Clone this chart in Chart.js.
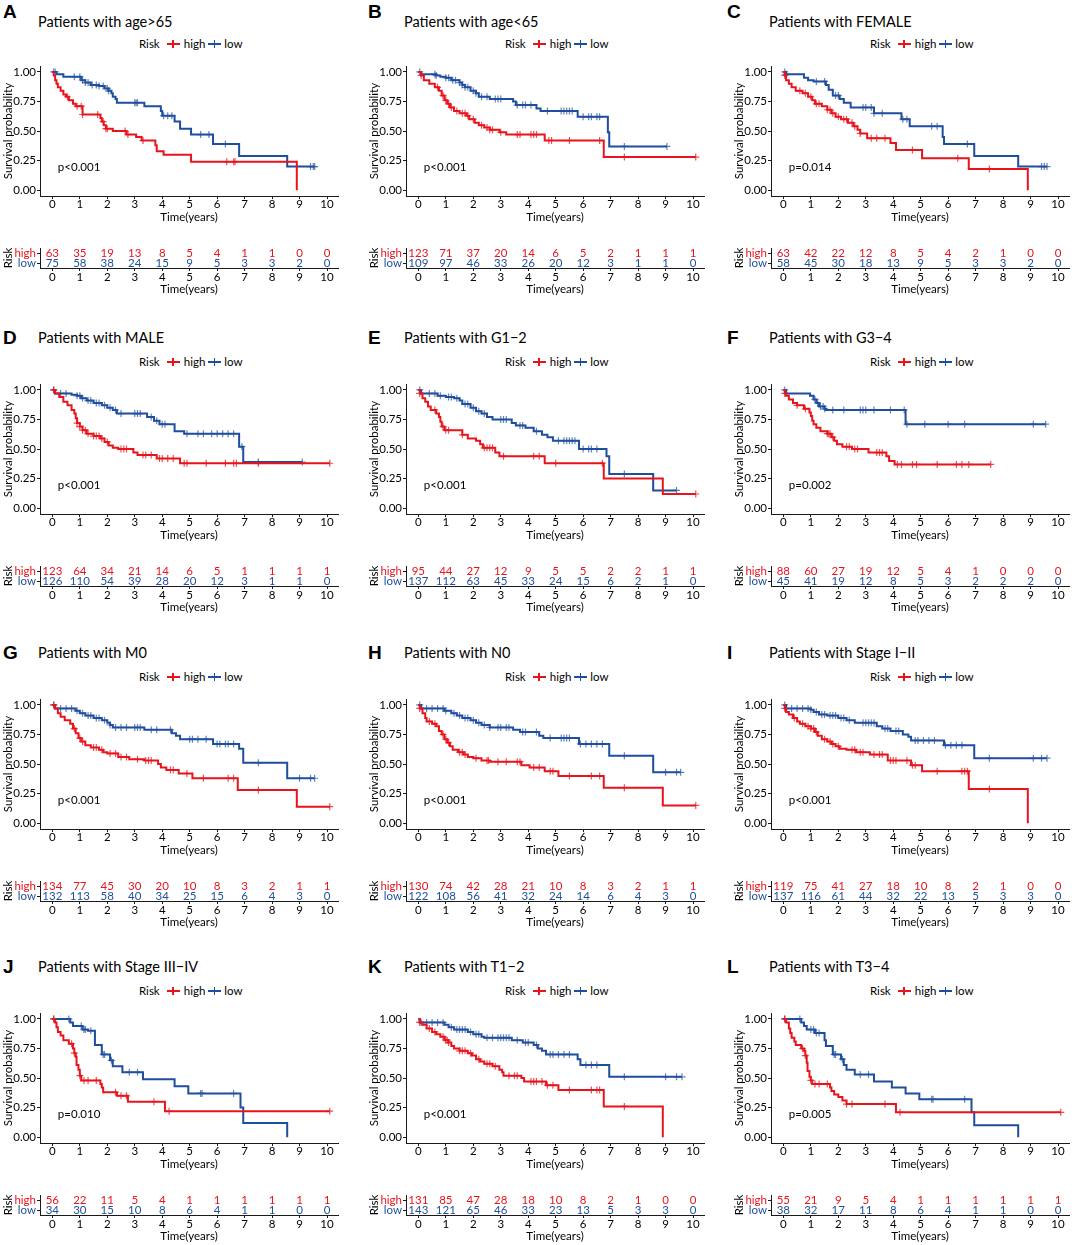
<!DOCTYPE html>
<html><head><meta charset="utf-8">
<script src="https://cdn.jsdelivr.net/npm/chart.js@4.4.1/dist/chart.umd.min.js"></script>
<style>
html,body{margin:0;padding:0;background:#fff;}
body{width:1072px;height:1245px;position:relative;overflow:hidden;font-family:Lato,"Open Sans",sans-serif;}
.abs{position:absolute;white-space:nowrap;}
.letter{font-family:"Liberation Sans",Arial,sans-serif;font-weight:bold;font-size:19px;line-height:20px;color:#000;}
.title{font-size:14.5px;line-height:18px;color:#000;}
.legend{font-size:11.5px;line-height:14px;height:14px;display:flex;align-items:center;color:#000;}
.key{display:inline-block;width:13px;height:8px;position:relative;}
.key:before{content:"";position:absolute;left:0;right:0;top:3px;height:2px;background:currentColor;}
.key:after{content:"";position:absolute;left:5.5px;top:0;width:1.5px;height:8px;background:currentColor;}
canvas{position:absolute;}
</style></head><body>
<script>
const FONT = 'Lato, "Open Sans", sans-serif';
const RED = '#E8141C', BLUE = '#1F4E9E';
const RED_C = 'rgba(232,20,28,0.75)', BLUE_C = 'rgba(31,78,158,0.7)';

const xTicks = [0,1,2,3,4,5,6,7,8,9,10];
const yTicks = [0,0.25,0.5,0.75,1];
const yTickLabels = ['0.00','0.25','0.50','0.75','1.00'];
const letters = ['A','B','C','D','E','F','G','H','I','J','K','L'];
const titles = ['Patients with age>65','Patients with age<65','Patients with FEMALE','Patients with MALE',
  'Patients with G1\u22122','Patients with G3\u22124','Patients with M0','Patients with N0',
  'Patients with Stage I\u2212II','Patients with Stage III\u2212IV','Patients with T1\u22122','Patients with T3\u22124'];
const pvals = ['p<0.001','p<0.001','p=0.014','p<0.001','p<0.001','p=0.002','p<0.001','p<0.001','p<0.001','p=0.010','p<0.001','p=0.005'];

// ---- A: age>65
const A_hi_t=[0,0.05,0.1,0.15,0.2,0.3,0.4,0.5,0.6,0.75,0.85,1.1,1.75,1.8,1.87,1.95,2.2,2.7,3.05,3.25,3.75,3.8,4.05,5.05,8.9];
const A_hi_s=[1,0.97,0.93,0.90,0.87,0.84,0.81,0.79,0.76,0.73,0.71,0.64,0.61,0.58,0.55,0.52,0.50,0.47,0.45,0.42,0.38,0.33,0.30,0.24,0];
const A_hi_c=[0.55,0.9,1.05,1.1,1.65,1.85,1.95,2.0,2.65,2.75,3.3,6.35,6.6,6.65];
const A_lo_t=[0,0.15,0.4,1.05,1.2,1.4,1.7,1.9,2.05,2.15,2.2,2.3,2.35,3.35,3.95,4.0,4.45,4.65,5.05,5.85,6.8,8.55,9.55];
const A_lo_s=[1,0.98,0.96,0.93,0.91,0.89,0.88,0.86,0.84,0.82,0.79,0.77,0.74,0.71,0.67,0.63,0.58,0.52,0.47,0.39,0.29,0.20,0.20];
const A_lo_c=[0.05,0.1,0.8,1.0,1.1,1.2,1.3,1.45,1.6,1.7,1.85,2.0,2.05,3.0,3.05,3.1,4.05,4.2,4.35,5.4,5.7,6.3,9.4,9.5,9.55];
// ---- B: age<65
const B_hi_t=[0,0.1,0.2,0.4,0.6,0.75,0.85,0.95,1.05,1.15,1.3,1.5,1.75,1.85,2.05,2.2,2.4,2.6,2.95,3.2,4.6,6.75,10.1];
const B_hi_s=[1,0.97,0.93,0.90,0.87,0.84,0.80,0.76,0.73,0.70,0.67,0.65,0.63,0.60,0.57,0.55,0.53,0.51,0.49,0.47,0.42,0.28,0.28];
const B_hi_c=[0.1,0.7,0.9,1.0,1.1,1.2,1.4,1.6,1.7,1.8,2.0,2.3,2.5,2.6,2.7,3.0,3.6,3.7,4.1,4.2,4.3,4.75,4.85,5.5,6.6,7.5,10.1];
const B_lo_t=[0,0.1,0.65,0.8,1.0,1.2,1.5,1.6,1.7,1.9,2.1,2.2,2.6,3.45,3.55,4.3,4.45,5.8,6.9,6.95,9.05];
const B_lo_s=[1,0.98,0.97,0.96,0.95,0.93,0.91,0.89,0.87,0.84,0.82,0.79,0.77,0.75,0.72,0.69,0.67,0.62,0.49,0.37,0.37];
const B_lo_c=[0.05,0.6,0.65,1.0,1.1,1.25,1.35,1.5,1.6,1.7,1.8,2.0,2.1,2.3,2.5,2.8,2.9,3.0,3.6,3.8,3.9,4.1,4.7,5.2,5.3,5.4,5.5,5.6,6.0,6.2,6.3,6.5,6.6,7.5,9.05];
// ---- C: FEMALE
const C_hi_t=[0,0.05,0.1,0.2,0.3,0.45,0.7,0.9,1.05,1.15,1.4,1.6,1.75,1.9,2.1,2.35,2.55,2.7,2.8,3.05,3.9,4.1,5.05,6.75,8.9];
const C_hi_s=[1,0.97,0.93,0.90,0.87,0.84,0.82,0.79,0.76,0.73,0.71,0.68,0.65,0.62,0.60,0.57,0.54,0.51,0.48,0.44,0.40,0.34,0.27,0.18,0];
const C_hi_c=[0.05,0.6,0.8,1.0,1.2,1.3,1.6,1.7,1.8,2.0,2.2,2.3,2.5,2.6,2.8,3.2,3.4,3.7,4.7,6.35,7.5];
const C_lo_t=[0,0.1,0.75,0.9,1.1,1.55,1.65,1.8,2.05,2.2,2.45,3.3,4.3,4.6,5.8,5.85,6.95,8.55,9.6];
const C_lo_s=[1,0.98,0.95,0.93,0.92,0.89,0.85,0.80,0.77,0.74,0.70,0.65,0.60,0.54,0.45,0.39,0.29,0.20,0.20];
const C_lo_c=[0.05,0.1,1.2,1.5,1.9,2.0,2.9,3.0,3.2,3.3,3.6,4.35,4.5,5.4,5.6,6.7,9.4,9.5,9.6];
// ---- D: MALE
const D_hi_t=[0,0.1,0.25,0.4,0.55,0.7,0.8,0.85,0.9,1.0,1.1,1.25,1.5,1.75,1.9,2.05,2.2,2.4,2.95,3.1,3.8,4.65,10.1];
const D_hi_s=[1,0.97,0.94,0.90,0.87,0.83,0.80,0.76,0.72,0.69,0.66,0.63,0.61,0.59,0.56,0.53,0.51,0.50,0.47,0.45,0.42,0.38,0.38];
const D_hi_c=[0.05,0.9,1.0,1.1,1.2,1.3,1.5,1.6,1.7,1.8,2.0,2.5,2.6,2.7,3.3,3.4,3.6,3.9,4.0,4.2,4.4,4.8,4.9,5.6,6.3,6.6,6.7,7.5,10.1];
const D_lo_t=[0,0.1,0.7,0.9,1.05,1.25,1.5,1.8,2.0,2.2,2.35,3.45,3.7,3.9,4.45,4.8,6.8,6.95,9.1];
const D_lo_s=[1,0.97,0.96,0.95,0.93,0.91,0.89,0.87,0.85,0.83,0.80,0.77,0.74,0.71,0.65,0.63,0.52,0.39,0.39];
const D_lo_c=[0.05,0.3,0.5,0.9,1.0,1.1,1.3,1.4,1.6,1.7,1.9,2.1,2.3,2.5,3.0,3.1,3.2,3.6,3.8,4.0,4.1,4.9,5.3,5.5,5.8,6.0,6.2,6.4,6.6,6.9,7.5,9.1];
// ---- E: G1-2
const E_hi_t=[0,0.05,0.15,0.25,0.35,0.45,0.65,0.75,0.8,0.85,0.95,1.6,1.8,2.1,2.25,2.35,2.8,2.95,4.6,6.75,8.9,10.1];
const E_hi_s=[1,0.97,0.93,0.90,0.86,0.83,0.80,0.77,0.73,0.69,0.66,0.62,0.59,0.57,0.54,0.51,0.47,0.44,0.38,0.25,0.12,0.12];
const E_hi_c=[0.05,0.6,0.9,1.0,1.1,1.6,2.4,2.5,2.6,2.7,3.1,4.2,4.4,5.0,6.7,10.1];
const E_lo_t=[0,0.1,0.7,1.0,1.3,1.5,1.6,1.9,2.1,2.3,2.5,2.7,3.4,3.55,3.9,4.2,4.5,4.7,4.9,5.85,6.85,6.95,8.55,9.4];
const E_lo_s=[1,0.97,0.95,0.94,0.93,0.91,0.88,0.85,0.82,0.80,0.77,0.75,0.72,0.70,0.68,0.65,0.62,0.60,0.57,0.50,0.44,0.29,0.15,0.15];
const E_lo_c=[0.05,0.4,0.6,0.8,1.1,1.2,1.4,1.7,1.8,2.0,2.2,2.4,3.0,3.1,3.2,3.7,3.8,4.3,5.1,5.3,5.4,5.5,5.6,5.7,6.0,6.2,6.3,6.5,7.5,9.4];
// ---- F: G3-4
const F_hi_t=[0,0.05,0.1,0.2,0.35,0.5,0.75,0.95,1.0,1.05,1.1,1.2,1.35,1.6,1.75,1.85,1.95,2.15,2.5,3.1,3.75,3.85,4.05,7.55];
const F_hi_s=[1,0.97,0.95,0.92,0.89,0.87,0.84,0.81,0.78,0.74,0.71,0.68,0.65,0.63,0.60,0.57,0.54,0.52,0.50,0.47,0.44,0.40,0.37,0.37];
const F_hi_c=[0.05,0.5,0.8,1.6,1.65,1.7,1.8,2.3,2.4,2.6,2.7,3.4,3.5,3.6,4.15,4.3,4.7,4.85,5.6,6.3,6.5,6.75,7.55];
const F_lo_t=[0,0.1,0.97,1.1,1.2,1.3,1.5,1.55,4.45,9.55];
const F_lo_s=[1,0.97,0.95,0.92,0.89,0.86,0.84,0.83,0.71,0.71];
const F_lo_c=[0.05,1.15,1.25,1.35,1.45,1.5,1.8,2.2,2.8,2.9,3.0,3.3,3.9,4.4,4.5,5.15,6.0,6.6,9.1,9.55];
// ---- G: M0
const G_hi_t=[0,0.1,0.2,0.3,0.45,0.65,0.75,0.85,0.95,1.05,1.2,1.4,1.7,1.85,2.0,2.4,2.8,3.35,3.85,3.95,4.15,4.6,5.1,6.75,8.9,10.1];
const G_hi_s=[1,0.97,0.93,0.90,0.87,0.84,0.80,0.76,0.72,0.69,0.66,0.64,0.62,0.60,0.59,0.56,0.54,0.53,0.50,0.47,0.45,0.42,0.38,0.28,0.14,0.14];
const G_hi_c=[0.05,0.8,1.0,1.1,1.5,1.6,1.8,2.1,2.3,2.5,2.7,3.1,3.4,3.5,3.6,4.3,4.4,4.9,5.5,6.4,6.6,7.5,10.1];
const G_lo_t=[0,0.1,0.85,1.0,1.2,1.5,1.8,2.0,2.1,2.2,3.35,4.35,4.5,4.65,5.85,6.8,6.95,8.55,9.55];
const G_lo_s=[1,0.97,0.95,0.93,0.91,0.89,0.87,0.85,0.83,0.81,0.79,0.76,0.74,0.71,0.67,0.63,0.51,0.38,0.38];
const G_lo_c=[0.05,0.3,0.5,0.7,0.9,1.1,1.3,1.4,1.6,1.7,1.9,2.1,2.3,2.5,2.7,3.0,3.1,3.2,3.6,3.8,4.3,5.0,5.1,5.3,5.6,6.0,6.1,6.3,6.4,6.6,7.5,9.0,9.4,9.55];
// ---- H: N0
const H_hi_t=[0,0.05,0.15,0.25,0.3,0.5,0.65,0.75,0.85,0.95,1.05,1.15,1.25,1.45,1.65,1.8,2.0,2.3,2.6,3.75,4.05,4.6,5.1,6.75,8.9,10.1];
const H_hi_s=[1,0.97,0.93,0.89,0.86,0.84,0.82,0.78,0.75,0.71,0.68,0.65,0.62,0.60,0.58,0.56,0.55,0.53,0.52,0.49,0.47,0.44,0.40,0.30,0.15,0.15];
const H_hi_c=[0.05,0.4,0.6,0.9,1.0,1.1,1.5,1.6,1.7,2.1,2.5,2.55,2.9,3.2,3.6,3.7,4.2,4.4,4.8,4.9,5.5,6.3,6.6,7.5,10.1];
const H_lo_t=[0,0.1,0.95,1.2,1.4,1.6,1.9,2.1,2.3,2.6,3.45,3.7,4.4,4.55,5.85,6.95,8.55,9.55];
const H_lo_s=[1,0.97,0.95,0.93,0.91,0.89,0.87,0.85,0.83,0.81,0.79,0.77,0.74,0.72,0.67,0.57,0.43,0.43];
const H_lo_c=[0.05,0.3,0.5,0.7,0.9,1.0,1.3,1.5,1.7,1.8,2.0,2.2,2.4,2.6,2.9,3.0,3.2,3.3,3.8,3.9,4.3,4.8,5.2,5.3,5.4,5.5,5.9,6.1,6.3,6.5,6.7,7.5,9.0,9.4,9.55];
// ---- I: Stage I-II
const I_hi_t=[0,0.05,0.1,0.2,0.35,0.5,0.6,0.8,1.0,1.15,1.25,1.4,1.6,1.75,1.9,2.05,2.3,2.65,3.15,3.8,4.65,5.05,6.75,8.9];
const I_hi_s=[1,0.97,0.94,0.92,0.89,0.86,0.84,0.82,0.80,0.77,0.74,0.71,0.69,0.67,0.65,0.63,0.62,0.60,0.58,0.53,0.49,0.44,0.29,0];
const I_hi_c=[0.05,0.4,0.7,0.9,1.0,1.1,1.2,1.5,1.7,1.8,2.0,2.5,2.6,2.8,2.9,3.3,3.5,3.6,3.9,4.0,4.1,4.5,4.7,4.8,5.6,6.5,6.6,6.7,7.5];
const I_lo_t=[0,0.1,1.0,1.1,1.3,1.6,2.0,2.3,2.6,3.4,3.6,3.9,4.35,4.55,4.65,5.85,6.95,9.6];
const I_lo_s=[1,0.97,0.96,0.94,0.92,0.91,0.89,0.87,0.85,0.82,0.80,0.78,0.75,0.73,0.70,0.66,0.55,0.55];
const I_lo_c=[0.05,0.3,0.5,0.7,0.9,1.0,1.2,1.4,1.5,1.7,1.8,1.9,2.1,2.2,2.4,2.9,3.0,3.1,3.2,3.3,3.7,3.8,4.1,4.2,4.8,4.9,5.1,5.3,5.5,5.9,6.1,6.3,6.5,7.5,9.1,9.4,9.6];
// ---- J: Stage III-IV
const J_hi_t=[0,0.1,0.15,0.2,0.3,0.4,0.6,0.75,0.8,0.85,0.88,0.95,1.0,1.05,1.75,1.8,1.85,2.35,2.75,4.1,10.1];
const J_hi_s=[1,0.97,0.93,0.89,0.86,0.82,0.79,0.75,0.71,0.68,0.61,0.57,0.52,0.48,0.45,0.42,0.38,0.35,0.30,0.22,0.22];
const J_hi_c=[0.05,0.7,0.8,1.0,1.15,1.3,1.6,2.3,2.5,2.7,3.7,4.25,10.1];
const J_lo_t=[0,0.65,0.75,1.1,1.3,1.55,1.8,2.1,2.2,2.55,3.3,4.45,4.95,6.85,6.95,8.55];
const J_lo_s=[1,0.97,0.94,0.91,0.90,0.78,0.70,0.65,0.60,0.55,0.49,0.43,0.37,0.25,0.12,0];
const J_lo_c=[0.05,0.6,1.05,1.15,1.2,1.4,1.85,1.9,2.15,2.8,3.1,5.4,5.45,6.6];
// ---- K: T1-2
const K_hi_t=[0,0.05,0.15,0.3,0.5,0.65,0.8,0.95,1.1,1.2,1.3,1.5,1.8,1.95,2.1,2.25,2.4,2.7,2.95,3.05,3.1,3.75,3.85,4.65,5.1,6.75,8.9];
const K_hi_s=[1,0.97,0.95,0.92,0.89,0.87,0.85,0.82,0.80,0.77,0.75,0.73,0.71,0.69,0.66,0.64,0.62,0.60,0.57,0.55,0.52,0.50,0.47,0.44,0.40,0.26,0];
const K_hi_c=[0.05,0.4,0.6,0.9,1.0,1.05,1.1,1.5,1.6,1.7,1.9,2.2,2.5,2.6,2.8,3.3,3.5,3.6,4.1,4.2,4.3,4.5,4.7,4.9,5.5,6.3,6.5,6.6,7.5];
const K_lo_t=[0,0.05,0.95,1.1,1.3,1.8,2.0,2.3,2.4,3.4,3.8,4.2,4.35,4.5,4.65,5.8,5.9,6.95,9.6];
const K_lo_s=[1,0.97,0.95,0.93,0.91,0.89,0.87,0.85,0.84,0.82,0.80,0.78,0.75,0.73,0.70,0.66,0.61,0.51,0.51];
const K_lo_c=[0.1,0.3,0.5,0.7,0.9,1.2,1.4,1.5,1.6,1.7,1.9,2.1,2.2,2.5,2.7,2.9,3.0,3.1,3.2,3.3,3.6,3.9,4.0,4.3,4.8,4.9,5.1,5.3,5.5,6.1,6.3,6.5,7.5,9.0,9.4,9.6];
// ---- L: T3-4
const L_hi_t=[0,0.1,0.2,0.25,0.3,0.4,0.45,0.65,0.75,0.8,0.85,0.88,0.95,1.0,1.05,1.7,1.75,1.85,2.0,2.15,2.3,4.1,10.1];
const L_hi_s=[1,0.97,0.92,0.88,0.84,0.81,0.78,0.75,0.73,0.69,0.63,0.56,0.51,0.48,0.45,0.42,0.39,0.36,0.34,0.31,0.28,0.21,0.21];
const L_hi_c=[0.05,0.7,0.8,1.0,1.15,1.3,1.6,2.3,2.5,3.7,4.25,10.1];
const L_lo_t=[0,0.65,0.75,0.85,1.15,1.5,1.55,1.8,2.1,2.2,2.3,2.6,3.3,3.95,4.45,4.95,6.85,6.95,8.55];
const L_lo_s=[1,0.97,0.94,0.91,0.88,0.82,0.77,0.70,0.66,0.61,0.57,0.53,0.47,0.42,0.37,0.32,0.21,0.10,0];
const L_lo_c=[0.05,0.6,1.0,1.1,1.2,1.3,1.85,1.9,2.15,2.8,3.1,5.4,5.45,6.6];

// ---- numbers at risk
const A_hi_n=[63,35,19,13,8,5,4,1,1,0,0],   A_lo_n=[75,58,38,24,15,9,5,3,3,2,0];
const B_hi_n=[123,71,37,20,14,6,5,2,1,1,1], B_lo_n=[109,97,46,33,26,20,12,3,1,1,0];
const C_hi_n=[63,42,22,12,8,5,4,2,1,0,0],   C_lo_n=[58,45,30,18,13,9,5,3,3,2,0];
const D_hi_n=[123,64,34,21,14,6,5,1,1,1,1], D_lo_n=[126,110,54,39,28,20,12,3,1,1,0];
const E_hi_n=[95,44,27,12,9,5,5,2,2,1,1],   E_lo_n=[137,112,63,45,33,24,15,6,2,1,0];
const F_hi_n=[88,60,27,19,12,5,4,1,0,0,0],  F_lo_n=[45,41,19,12,8,5,3,2,2,2,0];
const G_hi_n=[134,77,45,30,20,10,8,3,2,1,1],G_lo_n=[132,113,58,40,34,25,15,6,4,3,0];
const H_hi_n=[130,74,42,28,21,10,8,3,2,1,1],H_lo_n=[122,108,56,41,32,24,14,6,4,3,0];
const I_hi_n=[119,75,41,27,18,10,8,2,1,0,0],I_lo_n=[137,116,61,44,32,22,13,5,3,3,0];
const J_hi_n=[56,22,11,5,4,1,1,1,1,1,1],    J_lo_n=[34,30,15,10,8,6,4,1,1,0,0];
const K_hi_n=[131,85,47,28,18,10,8,2,1,0,0],K_lo_n=[143,121,65,46,33,23,13,5,3,3,0];
const L_hi_n=[55,21,9,5,4,1,1,1,1,1,1],     L_lo_n=[38,32,17,11,8,6,4,1,1,0,0];

const panels = [
  [A_hi_t,A_hi_s,A_hi_c,A_lo_t,A_lo_s,A_lo_c,A_hi_n,A_lo_n],
  [B_hi_t,B_hi_s,B_hi_c,B_lo_t,B_lo_s,B_lo_c,B_hi_n,B_lo_n],
  [C_hi_t,C_hi_s,C_hi_c,C_lo_t,C_lo_s,C_lo_c,C_hi_n,C_lo_n],
  [D_hi_t,D_hi_s,D_hi_c,D_lo_t,D_lo_s,D_lo_c,D_hi_n,D_lo_n],
  [E_hi_t,E_hi_s,E_hi_c,E_lo_t,E_lo_s,E_lo_c,E_hi_n,E_lo_n],
  [F_hi_t,F_hi_s,F_hi_c,F_lo_t,F_lo_s,F_lo_c,F_hi_n,F_lo_n],
  [G_hi_t,G_hi_s,G_hi_c,G_lo_t,G_lo_s,G_lo_c,G_hi_n,G_lo_n],
  [H_hi_t,H_hi_s,H_hi_c,H_lo_t,H_lo_s,H_lo_c,H_hi_n,H_lo_n],
  [I_hi_t,I_hi_s,I_hi_c,I_lo_t,I_lo_s,I_lo_c,I_hi_n,I_lo_n],
  [J_hi_t,J_hi_s,J_hi_c,J_lo_t,J_lo_s,J_lo_c,J_hi_n,J_lo_n],
  [K_hi_t,K_hi_s,K_hi_c,K_lo_t,K_lo_s,K_lo_c,K_hi_n,K_lo_n],
  [L_hi_t,L_hi_s,L_hi_c,L_lo_t,L_lo_s,L_lo_c,L_hi_n,L_lo_n]
];

// ---- layout
const colX = [0, 366, 731];
const letterX = [3, 368, 727];
const rowY1 = [72, 390, 705, 1019];       // pixel of survival 1.00
const titleOff = [-50, -52, -52, -52];
const letterOff = [-60, -52, -52, -52];
const legendOff = -28;

Chart.defaults.font.family = FONT;
Chart.defaults.color = '#000';

function survAt(t, T, S) {
  let v = S[0];
  for (let i = 0; i < T.length; i++) { if (T[i] <= t + 1e-9) v = S[i]; }
  return v;
}

const axisCommon = () => ({
  grid: {display: true, drawOnChartArea: false, drawTicks: true, tickLength: 3, color: '#1a1a1a', lineWidth: 1},
  border: {display: true, color: '#1a1a1a', width: 1}
});

const pvalPlugin = {
  id: 'kmtext',
  afterDraw(chart, args, opts) {
    const {ctx, scales: {x, y}} = chart;
    ctx.save();
    ctx.font = '11.5px ' + FONT; ctx.fillStyle = '#000';
    ctx.textAlign = 'left'; ctx.textBaseline = 'middle';
    ctx.fillText(opts.text, x.getPixelForValue(0.2), y.getPixelForValue(0.19));
    ctx.restore();
  }
};
const riskPlugin = {
  id: 'risknums',
  afterDraw(chart, args, opts) {
    const {ctx, scales: {x, y}} = chart;
    ctx.save();
    ctx.font = '11.5px ' + FONT; ctx.textAlign = 'center'; ctx.textBaseline = 'middle';
    xTicks.forEach((t, i) => {
      ctx.fillStyle = RED; ctx.fillText(String(opts.hi[i]), x.getPixelForValue(t), y.getPixelForValue(2));
      ctx.fillStyle = BLUE; ctx.fillText(String(opts.lo[i]), x.getPixelForValue(t), y.getPixelForValue(1));
    });
    ctx.restore();
  }
};

function addDiv(cls, html, left, top) {
  const d = document.createElement('div');
  d.className = 'abs ' + cls; d.innerHTML = html;
  d.style.left = left + 'px'; d.style.top = top + 'px';
  document.body.appendChild(d); return d;
}
function addCanvas(left, top, w, h) {
  const c = document.createElement('canvas');
  c.width = w; c.height = h; c.style.width = w + 'px'; c.style.height = h + 'px';
  c.style.left = left + 'px'; c.style.top = top + 'px';
  document.body.appendChild(c); return c;
}

const xScaleBase = (h, pad) => Object.assign({
  type: 'linear', min: -0.45, max: 10.4,
  afterBuildTicks: s => { s.ticks = xTicks.map(v => ({value: v})); },
  afterFit: s => { s.height = h; },
  ticks: {padding: pad, color: '#000', font: {size: 11.5}, maxRotation: 0, autoSkip: false, callback: v => String(v)},
  title: {display: true, text: 'Time(years)', color: '#000', font: {size: 11.5}, padding: {top: 0, bottom: 0}}
}, axisCommon());

panels.forEach((p, k) => {
  const [hiT, hiS, hiC, loT, loS, loC, hiN, loN] = p;
  const col = k % 3, row = Math.floor(k / 3);
  const cx = colX[col], Y1 = rowY1[row];

  addDiv('letter', letters[k], letterX[col], Y1 + letterOff[row] - 10);
  addDiv('title', titles[k], cx + 38, Y1 + titleOff[row] - 9);
  addDiv('legend',
    '<span>Risk</span><span class="key" style="color:' + RED + ';margin:0 4px 0 7px"></span><span>high</span>' +
    '<span class="key" style="color:' + BLUE + ';margin:0 3px 0 3px"></span><span>low</span>',
    cx + 139, Y1 + legendOff - 7);

  // KM plot
  const c1 = addCanvas(cx, Y1 - 15, 344, 167);
  new Chart(c1, {
    type: 'line',
    data: {datasets: [
      {data: hiT.map((t, i) => ({x: t, y: hiS[i]})), borderColor: RED, borderWidth: 2, stepped: 'before', pointRadius: 0, fill: false},
      {data: loT.map((t, i) => ({x: t, y: loS[i]})), borderColor: BLUE, borderWidth: 2, stepped: 'before', pointRadius: 0, fill: false},
      {data: hiC.map(t => ({x: t, y: survAt(t, hiT, hiS)})), showLine: false, pointStyle: 'cross', pointRadius: 3.5, pointBorderWidth: 1.2, pointBorderColor: RED_C, borderColor: RED_C},
      {data: loC.map(t => ({x: t, y: survAt(t, loT, loS)})), showLine: false, pointStyle: 'cross', pointRadius: 3.5, pointBorderWidth: 1.2, pointBorderColor: BLUE_C, borderColor: BLUE_C}
    ]},
    options: {
      responsive: false, animation: false, devicePixelRatio: 1,
      layout: {padding: {top: 9, right: 6, left: 0, bottom: 0}},
      plugins: {legend: {display: false}, tooltip: {enabled: false}, kmtext: {text: pvals[k]}},
      scales: {
        x: xScaleBase(27.9, -2),
        y: Object.assign({
          type: 'linear', min: -0.05, max: 1.05,
          afterBuildTicks: s => { s.ticks = yTicks.map(v => ({value: v})); },
          afterFit: s => { s.width = 40; },
          ticks: {padding: 1, color: '#000', font: {size: 11.5}, callback: v => yTickLabels[yTicks.indexOf(v)]},
          title: {display: true, text: 'Survival probability', color: '#000', font: {size: 11.5}, padding: {top: 1, bottom: 0}}
        }, axisCommon())
      }
    },
    plugins: [pvalPlugin]
  });

  // risk table
  const c2 = addCanvas(cx, Y1 + 168, 344, 56);
  new Chart(c2, {
    type: 'line',
    data: {datasets: []},
    options: {
      responsive: false, animation: false, devicePixelRatio: 1,
      layout: {padding: {top: 8, right: 6, left: 0, bottom: 0}},
      plugins: {legend: {display: false}, tooltip: {enabled: false}, risknums: {hi: hiN, lo: loN}},
      scales: {
        x: xScaleBase(28, -0.5),
        y: Object.assign({
          type: 'linear', min: 0.5, max: 2.5,
          afterBuildTicks: s => { s.ticks = [{value: 1}, {value: 2}]; },
          afterFit: s => { s.width = 40; },
          ticks: {padding: 1, font: {size: 11.5}, color: ctx => (ctx.tick && ctx.tick.value === 2) ? RED : BLUE,
                  callback: v => v === 2 ? 'high' : 'low'},
          title: {display: true, text: 'Risk', color: '#000', font: {size: 11.5}, padding: {top: 1, bottom: 0}}
        }, axisCommon())
      }
    },
    plugins: [riskPlugin]
  });
});
</script>
</body></html>
